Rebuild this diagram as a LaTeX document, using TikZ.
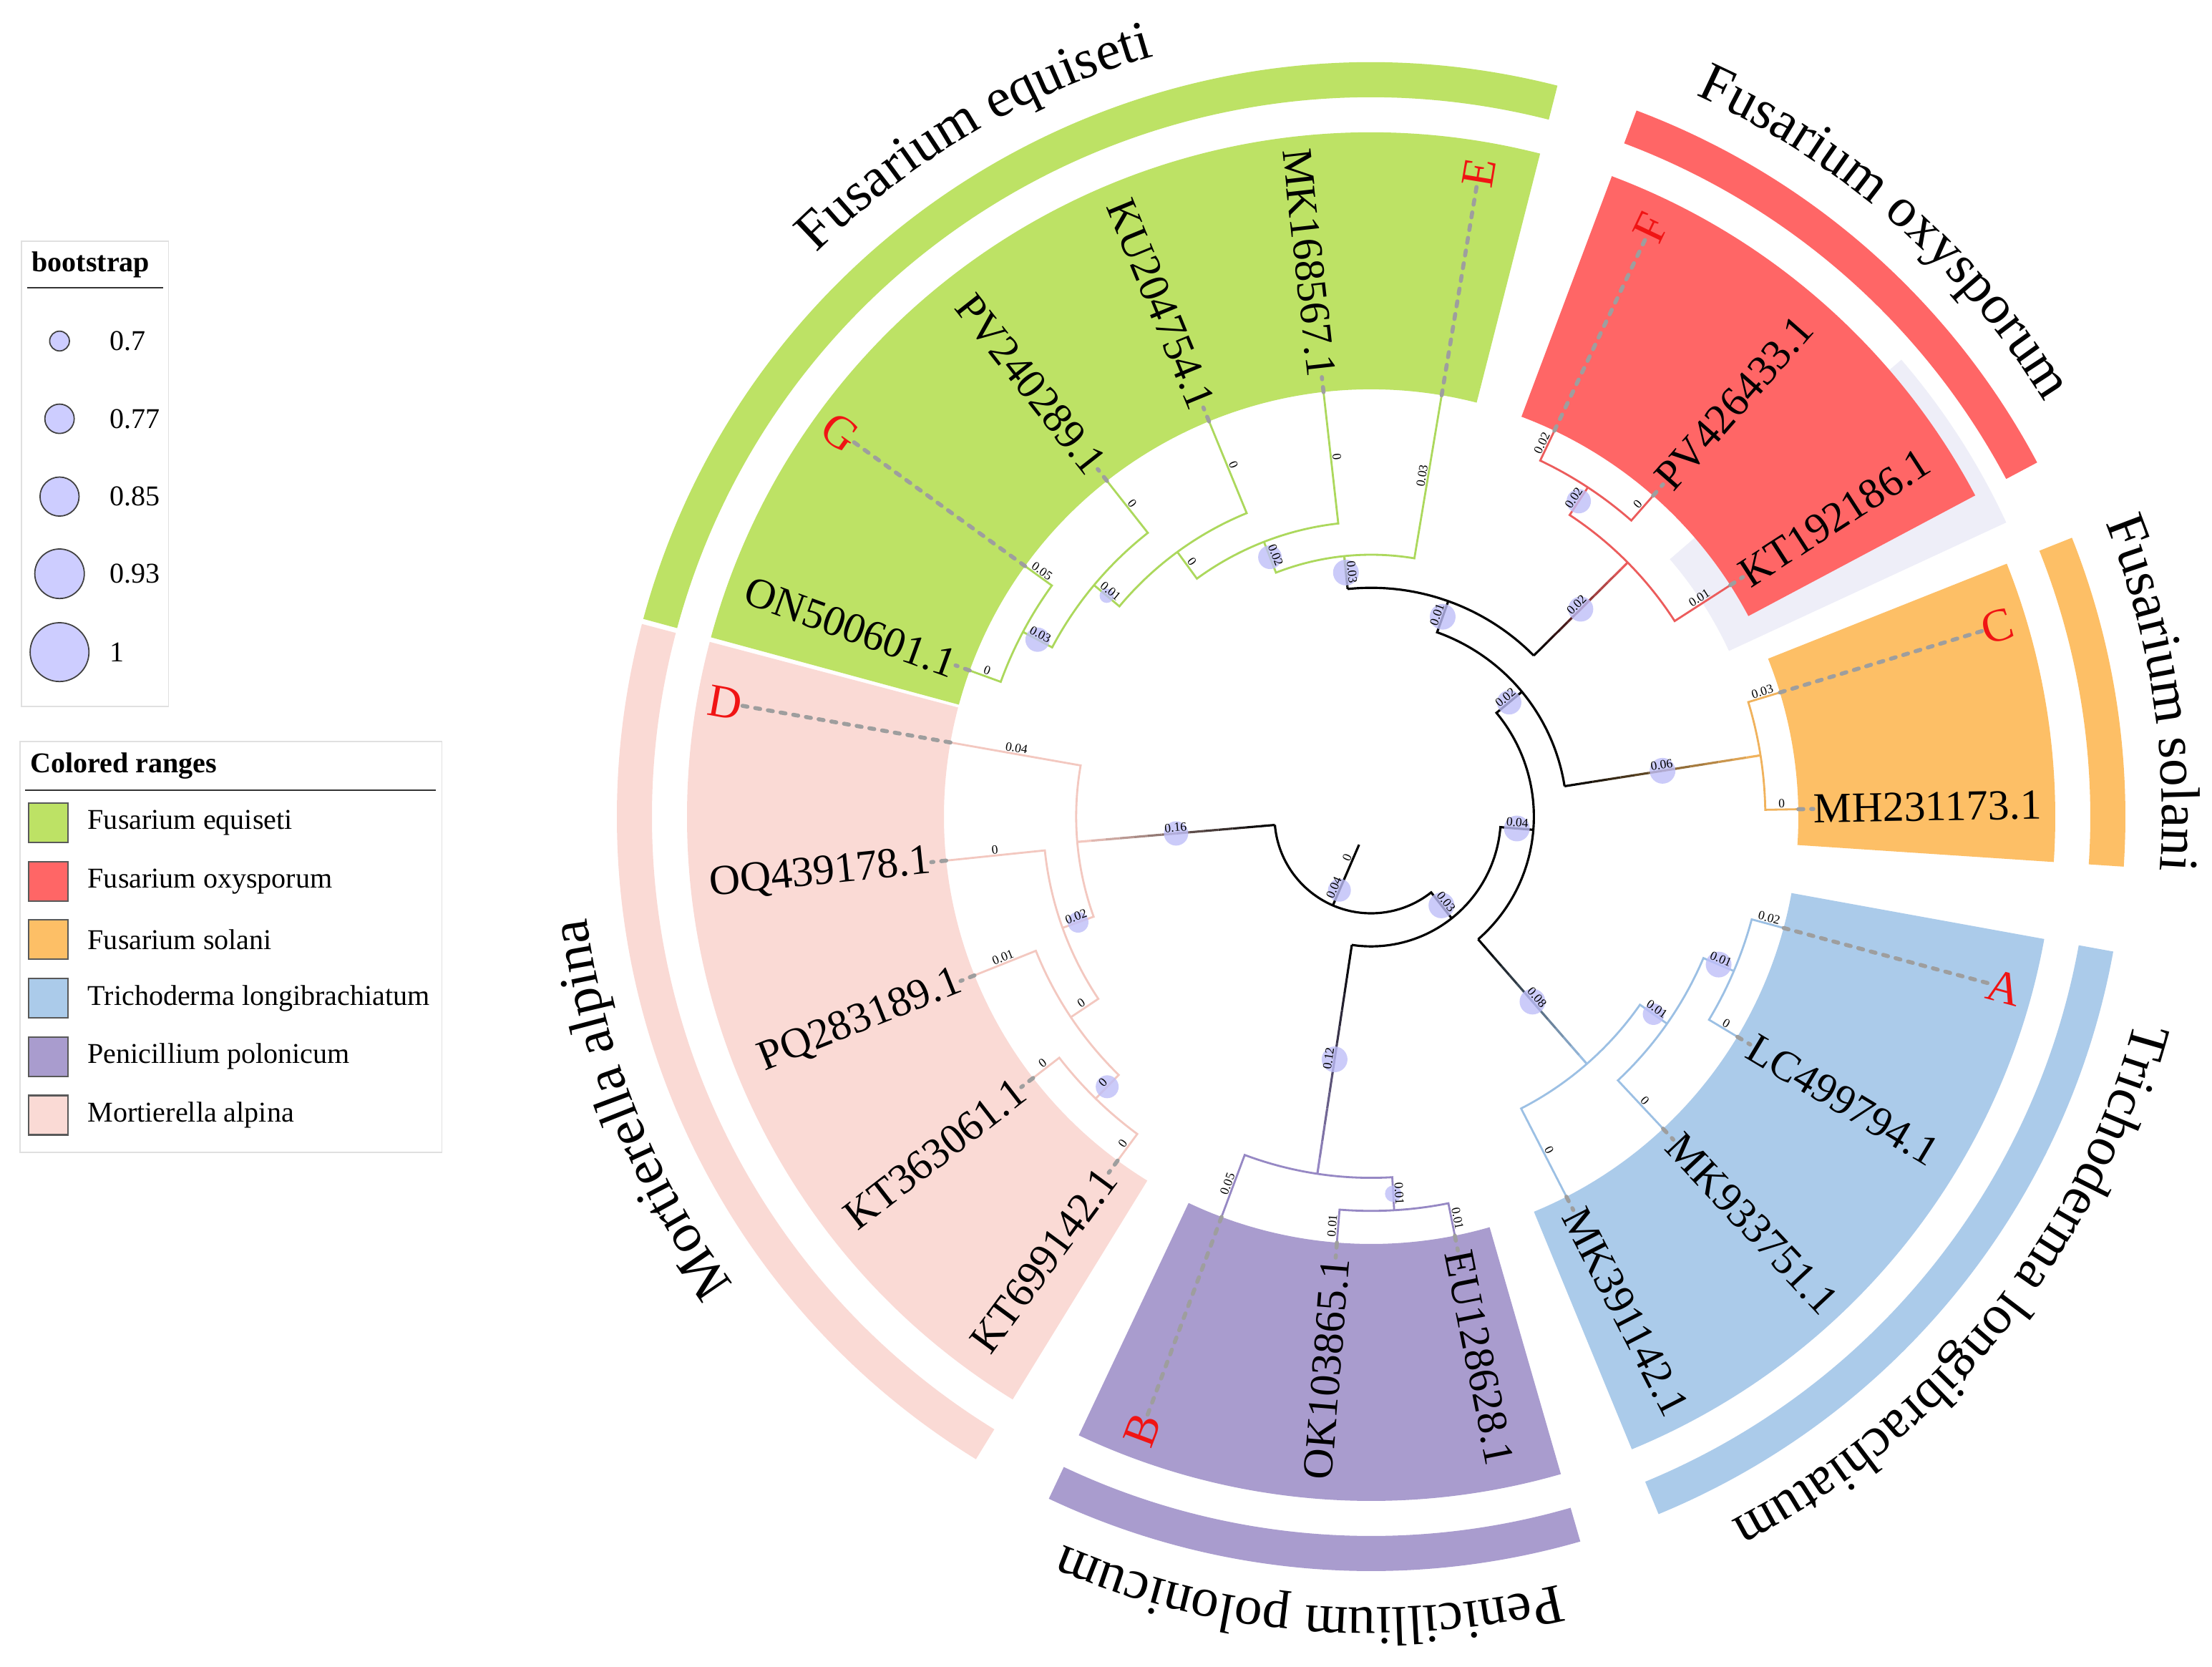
\documentclass[tikz,border=0pt]{standalone}
\usepackage{fontspec}
\setmainfont{Liberation Serif}
\usetikzlibrary{decorations.text}

\definecolor{eqcol}{RGB}{189,226,101}
\definecolor{oxcol}{RGB}{255,102,102}
\definecolor{socol}{RGB}{253,191,102}
\definecolor{trcol}{RGB}{171,203,234}
\definecolor{pecol}{RGB}{169,156,206}
\definecolor{mocol}{RGB}{250,218,213}
\definecolor{kthl}{RGB}{238,238,248}
\definecolor{eqline}{RGB}{172,216,92}
\definecolor{oxline}{RGB}{236,92,92}
\definecolor{soline}{RGB}{240,178,92}
\definecolor{trline}{RGB}{156,192,228}
\definecolor{peline}{RGB}{150,136,196}
\definecolor{moline}{RGB}{243,200,192}
\definecolor{bscol}{RGB}{190,190,248}
\definecolor{legbs}{RGB}{205,205,255}
\definecolor{dashgray}{RGB}{158,158,158}
\definecolor{letred}{RGB}{240,20,20}

\newcommand\cladefont{\fontsize{22}{26}\selectfont}
\newcommand\gradbr[4]{%
  \foreach \k in {0,...,13}{%
    \pgfmathsetmacro\ra{#2+(#3-#2)*\k/14}%
    \pgfmathsetmacro\rb{#2+(#3-#2)*(\k+1)/14}%
    \pgfmathtruncatemacro\pc{100*\k/13}%
    \draw[line width=0.9pt, draw=#4!\pc!black] (#1:\ra) -- (#1:\rb);
  }}

\tikzset{
  bb/.style={line width=0.9pt, draw=black},
  eqbr/.style={line width=0.8pt, draw=eqline},
  oxbr/.style={line width=0.8pt, draw=oxline},
  sobr/.style={line width=0.8pt, draw=soline},
  trbr/.style={line width=0.8pt, draw=trline},
  pebr/.style={line width=0.8pt, draw=peline},
  mobr/.style={line width=0.8pt, draw=moline},
  blab/.style={font=\fontsize{5}{6}\selectfont, inner sep=0.5pt, anchor=south},
  bsdot/.style={fill=bscol, fill opacity=0.8},
  leaflab/.style={font=\fontsize{17}{20}\selectfont, inner sep=0pt},
  letlab/.style={font=\fontsize{18.5}{22}\selectfont, text=letred, inner sep=0pt},
  leafdash/.style={draw=dashgray, line width=1.6pt, line cap=round, dash pattern=on 0.07cm off 0.11cm},
  legbox/.style={draw=black!12, line width=0.5pt},
  legcirc/.style={draw=black!75, line width=0.5pt, fill=legbs},
  swatch/.style={draw=black!65, line width=0.6pt},
  leglab/.style={font=\fontsize{11.4}{13}\selectfont, inner sep=0pt, anchor=west},
  legtitle/.style={font=\bfseries\fontsize{11.4}{13}\selectfont, inner sep=0pt, anchor=base west},
  cladename/.style={decorate, decoration={text along path, text align=center, text={|\cladefont|#1}}}
}

\begin{document}
\begin{tikzpicture}
\fill[white] (0,0) rectangle (30.91,23.28);
\useasboundingbox (0,0) rectangle (30.91,23.28);

\draw[legbox] (0.30,13.41) rectangle (2.354,19.91);
\node[legtitle] (bstitle) at (0.437,19.48) {bootstrap};
\draw[line width=0.6pt, black!80] (0.378,19.256) -- (2.275,19.256);
\draw[legcirc] (0.832,18.515) circle (0.138);
\node[leglab] (bs1) at (1.524,18.515) {0.7};
\draw[legcirc] (0.832,17.429) circle (0.205);
\node[leglab] (bs2) at (1.524,17.429) {0.77};
\draw[legcirc] (0.832,16.342) circle (0.273);
\node[leglab] (bs3) at (1.524,16.342) {0.85};
\draw[legcirc] (0.832,15.264) circle (0.346);
\node[leglab] (bs4) at (1.524,15.264) {0.93};
\draw[legcirc] (0.832,14.169) circle (0.411);
\node[leglab] (bs5) at (1.524,14.169) {1};

\draw[legbox] (0.279,7.182) rectangle (6.176,12.918);
\node[legtitle] (crtitle) at (0.417,12.48) {Colored ranges};
\draw[line width=0.6pt, black!80] (0.35,12.243) -- (6.09,12.243);
\draw[swatch, fill=eqcol] (0.40,11.51) rectangle (0.95,12.06);
\node[leglab] (cr1) at (1.22,11.785) {Fusarium equiseti};
\draw[swatch, fill=oxcol] (0.40,10.693) rectangle (0.95,11.243);
\node[leglab] (cr2) at (1.22,10.968) {Fusarium oxysporum};
\draw[swatch, fill=socol] (0.40,9.876) rectangle (0.95,10.426);
\node[leglab] (cr3) at (1.22,10.151) {Fusarium solani};
\draw[swatch, fill=trcol] (0.40,9.059) rectangle (0.95,9.609);
\node[leglab] (cr4) at (1.22,9.334) {Trichoderma longibrachiatum};
\draw[swatch, fill=pecol] (0.40,8.242) rectangle (0.95,8.792);
\node[leglab] (cr5) at (1.22,8.517) {Penicillium polonicum};
\draw[swatch, fill=mocol] (0.40,7.425) rectangle (0.95,7.975);
\node[leglab] (cr6) at (1.22,7.70) {Mortierella alpina};

\begin{scope}[shift={(19.16,11.87)}]
\fill[kthl] (24.85:5.51) arc[start angle=24.85, end angle=40.75, radius=5.51] -- (40.75:9.78) arc[start angle=40.75, end angle=24.85, radius=9.78] -- cycle;

\fill[eqcol] (75.7:5.97) arc[start angle=75.7, end angle=164.8, radius=5.97] -- (164.8:9.56) arc[start angle=164.8, end angle=75.7, radius=9.56] -- cycle;
\fill[oxcol] (28.0:5.97) arc[start angle=28.0, end angle=69.4, radius=5.97] -- (69.4:9.56) arc[start angle=69.4, end angle=28.0, radius=9.56] -- cycle;
\fill[socol] (-3.8:5.97) arc[start angle=-3.8, end angle=21.7, radius=5.97] -- (21.7:9.56) arc[start angle=21.7, end angle=-3.8, radius=9.56] -- cycle;
\fill[trcol] (292.4:5.97) arc[start angle=292.4, end angle=349.7, radius=5.97] -- (349.7:9.56) arc[start angle=349.7, end angle=292.4, radius=9.56] -- cycle;
\fill[pecol] (244.7:5.97) arc[start angle=244.7, end angle=286.1, radius=5.97] -- (286.1:9.56) arc[start angle=286.1, end angle=244.7, radius=9.56] -- cycle;
\fill[mocol] (165.2:5.97) arc[start angle=165.2, end angle=238.4, radius=5.97] -- (238.4:9.56) arc[start angle=238.4, end angle=165.2, radius=9.56] -- cycle;

\fill[eqcol] (75.7:10.05) arc[start angle=75.7, end angle=164.8, radius=10.05] -- (164.8:10.54) arc[start angle=164.8, end angle=75.7, radius=10.54] -- cycle;
\fill[oxcol] (28.0:10.05) arc[start angle=28.0, end angle=69.4, radius=10.05] -- (69.4:10.54) arc[start angle=69.4, end angle=28.0, radius=10.54] -- cycle;
\fill[socol] (-3.8:10.05) arc[start angle=-3.8, end angle=21.7, radius=10.05] -- (21.7:10.54) arc[start angle=21.7, end angle=-3.8, radius=10.54] -- cycle;
\fill[trcol] (292.4:10.05) arc[start angle=292.4, end angle=349.7, radius=10.05] -- (349.7:10.54) arc[start angle=349.7, end angle=292.4, radius=10.54] -- cycle;
\fill[pecol] (244.7:10.05) arc[start angle=244.7, end angle=286.1, radius=10.05] -- (286.1:10.54) arc[start angle=286.1, end angle=244.7, radius=10.54] -- cycle;
\fill[mocol] (165.2:10.05) arc[start angle=165.2, end angle=238.4, radius=10.05] -- (238.4:10.54) arc[start angle=238.4, end angle=165.2, radius=10.54] -- cycle;

\path[cladename={Fusarium equiseti}] (190.25:11.05) arc[start angle=190.25, end angle=50.25, radius=11.05];
\path[cladename={Fusarium oxysporum}] (118.7:11.05) arc[start angle=118.7, end angle=-21.3, radius=11.05];
\path[cladename={Fusarium solani}] (78.95:11.05) arc[start angle=78.95, end angle=-61.05, radius=11.05];
\path[cladename={Trichoderma longibrachiatum}] (391.05:11.05) arc[start angle=391.05, end angle=251.05, radius=11.05];
\path[cladename={Penicillium polonicum}] (335.4:11.05) arc[start angle=335.4, end angle=195.4, radius=11.05];
\path[cladename={Mortierella alpina}] (271.8:11.05) arc[start angle=271.8, end angle=131.8, radius=11.05];

\draw[bb] (246.66:0.426) -- (246.66:1.35);
\draw[bb] (184.91:1.35) arc[start angle=184.91, end angle=308.4, radius=1.35] -- (308.4:1.812);
\gradbr{184.91}{1.35}{4.122}{moline}
\draw[bb] (261.43:1.812) arc[start angle=261.43, end angle=355.37, radius=1.812] -- (355.37:2.274);
\gradbr{261.43}{1.812}{5.046}{peline}
\draw[bb] (311.11:2.274) arc[start angle=311.11, end angle=399.63, radius=2.274] -- (399.63:2.736);
\gradbr{311.11}{2.274}{4.584}{trline}
\draw[bb] (368.95:2.736) arc[start angle=368.95, end angle=430.31, radius=2.736] -- (430.31:3.198);
\gradbr{8.95}{2.736}{5.508}{soline}
\draw[bb] (44.725:3.198) arc[start angle=44.725, end angle=95.9, radius=3.198];
\gradbr{44.725}{3.198}{5.046}{oxline}
\gradbr{95.9}{3.198}{3.66}{eqline}

\draw[eqbr] (80.5:5.97) -- (80.5:3.66) arc[start angle=80.5, end angle=111.31, radius=3.66] -- (111.31:4.122);
\draw[eqbr] (96.4:5.97) -- (96.4:4.122) arc[start angle=96.4, end angle=126.21, radius=4.122] -- (126.21:4.584);
\draw[eqbr] (112.3:5.97) -- (112.3:4.584) arc[start angle=112.3, end angle=140.125, radius=4.584] -- (140.125:5.046);
\draw[eqbr] (128.2:5.97) -- (128.2:5.046) arc[start angle=128.2, end angle=152.05, radius=5.046] -- (152.05:5.508);
\draw[eqbr] (144.1:5.97) -- (144.1:5.508) arc[start angle=144.1, end angle=160, radius=5.508] -- (160:5.97);

\draw[oxbr] (32.8:5.97) -- (32.8:5.046) arc[start angle=32.8, end angle=56.65, radius=5.046] -- (56.65:5.508);
\draw[oxbr] (48.7:5.97) -- (48.7:5.508) arc[start angle=48.7, end angle=64.6, radius=5.508] -- (64.6:5.97);

\draw[sobr] (1:5.97) -- (1:5.508) arc[start angle=1, end angle=16.9, radius=5.508] -- (16.9:5.97);

\draw[trbr] (297.2:5.97) -- (297.2:4.584) arc[start angle=297.2, end angle=325.03, radius=4.584] -- (325.03:5.046);
\draw[trbr] (313.1:5.97) -- (313.1:5.046) arc[start angle=313.1, end angle=336.95, radius=5.046] -- (336.95:5.508);
\draw[trbr] (329:5.97) -- (329:5.508) arc[start angle=329, end angle=344.9, radius=5.508] -- (344.9:5.97);

\draw[pebr] (249.5:5.97) -- (249.5:5.046) arc[start angle=249.5, end angle=273.35, radius=5.046] -- (273.35:5.508);
\draw[pebr] (265.4:5.97) -- (265.4:5.508) arc[start angle=265.4, end angle=281.3, radius=5.508] -- (281.3:5.97);

\draw[mobr] (170:5.97) -- (170:4.122) arc[start angle=170, end angle=199.81, radius=4.122] -- (199.81:4.584);
\draw[mobr] (185.9:5.97) -- (185.9:4.584) arc[start angle=185.9, end angle=213.725, radius=4.584] -- (213.725:5.046);
\draw[mobr] (201.8:5.97) -- (201.8:5.046) arc[start angle=201.8, end angle=225.65, radius=5.046] -- (225.65:5.508);
\draw[mobr] (217.7:5.97) -- (217.7:5.508) arc[start angle=217.7, end angle=233.6, radius=5.508] -- (233.6:5.97);

\fill[bsdot] (246.66:1.119) circle (0.16);
\fill[bsdot] (184.91:2.736) circle (0.17);
\fill[bsdot] (308.4:1.581) circle (0.18);
\fill[bsdot] (261.43:3.429) circle (0.18);
\fill[bsdot] (355.37:2.043) circle (0.18);
\fill[bsdot] (311.11:3.429) circle (0.18);
\fill[bsdot] (39.63:2.505) circle (0.17);
\fill[bsdot] (8.95:4.122) circle (0.18);
\fill[bsdot] (70.31:2.967) circle (0.18);
\fill[bsdot] (44.725:4.122) circle (0.175);
\fill[bsdot] (95.9:3.429) circle (0.18);
\fill[bsdot] (111.31:3.891) circle (0.165);
\fill[bsdot] (140.125:4.815) circle (0.10);
\fill[bsdot] (152.05:5.277) circle (0.17);
\fill[bsdot] (56.65:5.277) circle (0.17);
\fill[bsdot] (325.03:4.815) circle (0.15);
\fill[bsdot] (336.95:5.277) circle (0.18);
\fill[bsdot] (273.35:5.277) circle (0.115);
\fill[bsdot] (199.81:4.353) circle (0.145);
\fill[bsdot] (225.65:5.277) circle (0.16);

\node[blab, rotate=66.66] (bl01) at (246.66:0.657) {0};
\node[blab, rotate=66.66] (bl02) at (246.66:1.119) {0.04};
\node[blab, rotate=4.91] (bl03) at (184.91:2.736) {0.16};
\node[blab, rotate=-51.6] (bl04) at (308.4:1.581) {0.03};
\node[blab, rotate=81.43] (bl05) at (261.43:3.429) {0.12};
\node[blab, rotate=-4.63] (bl06) at (355.37:2.043) {0.04};
\node[blab, rotate=-48.89] (bl07) at (311.11:3.429) {0.08};
\node[blab, rotate=39.63] (bl08) at (39.63:2.505) {0.02};
\node[blab, rotate=8.95] (bl09) at (8.95:4.122) {0.06};
\node[blab, rotate=70.31] (bl10) at (70.31:2.967) {0.01};
\node[blab, rotate=44.725] (bl11) at (44.725:4.122) {0.02};
\node[blab, rotate=-84.1] (bl12) at (95.9:3.429) {0.03};
\node[blab, rotate=80.5] (bl13) at (80.5:4.815) {0.03};
\node[blab, rotate=-68.69] (bl14) at (111.31:3.891) {0.02};
\node[blab, rotate=-83.6] (bl15) at (96.4:5.046) {0};
\node[blab, rotate=-53.79] (bl16) at (126.21:4.353) {0};
\node[blab, rotate=-67.7] (bl17) at (112.3:5.277) {0};
\node[blab, rotate=-39.875] (bl18) at (140.125:4.815) {0.01};
\node[blab, rotate=-51.8] (bl19) at (128.2:5.508) {0};
\node[blab, rotate=-27.95] (bl20) at (152.05:5.277) {0.03};
\node[blab, rotate=-35.9] (bl21) at (144.1:5.739) {0.05};
\node[blab, rotate=-20] (bl22) at (160:5.739) {0};
\node[blab, rotate=32.8] (bl23) at (32.8:5.508) {0.01};
\node[blab, rotate=56.65] (bl24) at (56.65:5.277) {0.02};
\node[blab, rotate=48.7] (bl25) at (48.7:5.739) {0};
\node[blab, rotate=64.6] (bl26) at (64.6:5.739) {0.02};
\node[blab, rotate=1] (bl27) at (1:5.739) {0};
\node[blab, rotate=16.9] (bl28) at (16.9:5.739) {0.03};
\node[blab, rotate=-62.8] (bl29) at (297.2:5.277) {0};
\node[blab, rotate=-34.97] (bl30) at (325.03:4.815) {0.01};
\node[blab, rotate=-46.9] (bl31) at (313.1:5.508) {0};
\node[blab, rotate=-23.05] (bl32) at (336.95:5.277) {0.01};
\node[blab, rotate=-31] (bl33) at (329:5.739) {0};
\node[blab, rotate=-15.1] (bl34) at (344.9:5.739) {0.02};
\node[blab, rotate=69.5] (bl35) at (249.5:5.508) {0.05};
\node[blab, rotate=-86.65] (bl36) at (273.35:5.277) {0.01};
\node[blab, rotate=85.4] (bl37) at (265.4:5.739) {0.01};
\node[blab, rotate=-78.7] (bl38) at (281.3:5.739) {0.01};
\node[blab, rotate=-10] (bl39) at (170:5.046) {0.04};
\node[blab, rotate=19.81] (bl40) at (199.81:4.353) {0.02};
\node[blab, rotate=5.9] (bl41) at (185.9:5.277) {0};
\node[blab, rotate=33.725] (bl42) at (213.725:4.815) {0};
\node[blab, rotate=21.8] (bl43) at (201.8:5.508) {0.01};
\node[blab, rotate=45.65] (bl44) at (225.65:5.277) {0};
\node[blab, rotate=37.7] (bl45) at (217.7:5.739) {0};
\node[blab, rotate=53.6] (bl46) at (233.6:5.739) {0};

\coordinate (tMH) at (1:5.97);
\coordinate (tC) at (16.9:5.97);
\coordinate (tKT19) at (32.8:5.97);
\coordinate (tPV42) at (48.7:5.97);
\coordinate (tF) at (64.6:5.97);
\coordinate (tE) at (80.5:5.97);
\coordinate (tMK16) at (96.4:5.97);
\coordinate (tKU) at (112.3:5.97);
\coordinate (tPV24) at (128.2:5.97);
\coordinate (tG) at (144.1:5.97);
\coordinate (tON) at (160:5.97);
\coordinate (tD) at (170:5.97);
\coordinate (tOQ) at (185.9:5.97);
\coordinate (tPQ) at (201.8:5.97);
\coordinate (tKT36) at (217.7:5.97);
\coordinate (tKT69) at (233.6:5.97);
\coordinate (tB) at (249.5:5.97);
\coordinate (tOK) at (265.4:5.97);
\coordinate (tEU) at (281.3:5.97);
\coordinate (tMK39) at (297.2:5.97);
\coordinate (tMK93) at (313.1:5.97);
\coordinate (tLC) at (329:5.97);
\coordinate (tA) at (344.9:5.97);

\node[leaflab, anchor=west, rotate=1] (MH) at (1:6.18) {MH231173.1};
\node[letlab, anchor=west, rotate=16.9] (C) at (16.9:8.92) {C};
\node[leaflab, anchor=west, rotate=32.8] (KT19) at (32.8:6.18) {KT192186.1};
\node[leaflab, anchor=west, rotate=48.7] (PV42) at (48.7:6.18) {PV426433.1};
\node[letlab, anchor=west, rotate=64.6] (F) at (64.6:8.92) {F};
\node[letlab, anchor=west, rotate=80.5] (E) at (80.5:8.92) {E};
\node[leaflab, anchor=east, rotate=-83.6] (MK16) at (96.4:6.18) {MK168567.1};
\node[leaflab, anchor=east, rotate=-67.7] (KU) at (112.3:6.18) {KU204754.1};
\node[leaflab, anchor=east, rotate=-51.8] (PV24) at (128.2:6.18) {PV240289.1};
\node[letlab, anchor=east, rotate=-35.9] (G) at (144.1:8.92) {G};
\node[leaflab, anchor=east, rotate=-20] (ON) at (160:6.18) {ON500601.1};
\node[letlab, anchor=east, rotate=-10] (D) at (170:8.92) {D};
\node[leaflab, anchor=east, rotate=5.9] (OQ) at (185.9:6.18) {OQ439178.1};
\node[leaflab, anchor=east, rotate=21.8] (PQ) at (201.8:6.18) {PQ283189.1};
\node[leaflab, anchor=east, rotate=37.7] (KT36) at (217.7:6.18) {KT363061.1};
\node[leaflab, anchor=east, rotate=53.6] (KT69) at (233.6:6.18) {KT699142.1};
\node[letlab, anchor=east, rotate=69.5] (B) at (249.5:8.92) {B};
\node[leaflab, anchor=east, rotate=85.4] (OK) at (265.4:6.18) {OK103865.1};
\node[leaflab, anchor=west, rotate=-78.7] (EU) at (281.3:6.18) {EU128628.1};
\node[leaflab, anchor=west, rotate=-62.8] (MK39) at (297.2:6.18) {MK391142.1};
\node[leaflab, anchor=west, rotate=-46.9] (MK93) at (313.1:6.18) {MK933751.1};
\node[leaflab, anchor=west, rotate=-31] (LC) at (329:6.18) {LC499794.1};
\node[letlab, anchor=west, rotate=-15.1] (A) at (344.9:8.92) {A};

\draw[leafdash] (tMH) -- (MH.west);
\draw[leafdash] (tC) -- (C.west);
\draw[leafdash] (tKT19) -- (KT19.west);
\draw[leafdash] (tPV42) -- (PV42.west);
\draw[leafdash] (tF) -- (F.west);
\draw[leafdash] (tE) -- (E.west);
\draw[leafdash] (tMK16) -- (MK16.east);
\draw[leafdash] (tKU) -- (KU.east);
\draw[leafdash] (tPV24) -- (PV24.east);
\draw[leafdash] (tG) -- (G.east);
\draw[leafdash] (tON) -- (ON.east);
\draw[leafdash] (tD) -- (D.east);
\draw[leafdash] (tOQ) -- (OQ.east);
\draw[leafdash] (tPQ) -- (PQ.east);
\draw[leafdash] (tKT36) -- (KT36.east);
\draw[leafdash] (tKT69) -- (KT69.east);
\draw[leafdash] (tB) -- (B.east);
\draw[leafdash] (tOK) -- (OK.east);
\draw[leafdash] (tEU) -- (EU.west);
\draw[leafdash] (tMK39) -- (MK39.west);
\draw[leafdash] (tMK93) -- (MK93.west);
\draw[leafdash] (tLC) -- (LC.west);
\draw[leafdash] (tA) -- (A.west);
\end{scope}
\end{tikzpicture}
\end{document}
